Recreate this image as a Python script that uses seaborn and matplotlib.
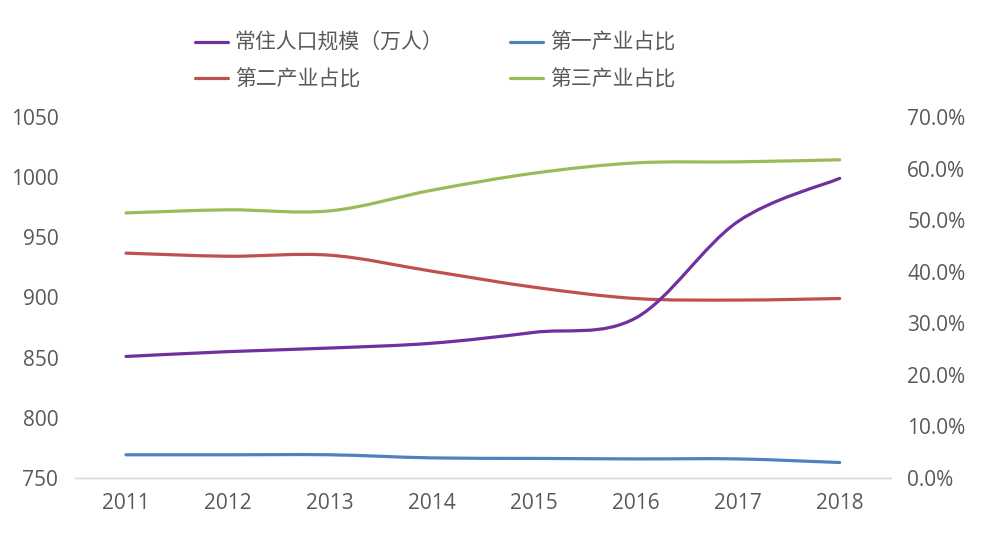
import numpy as np
import matplotlib
matplotlib.use("Agg")
import matplotlib.pyplot as plt
from matplotlib.path import Path
from matplotlib.patches import PathPatch
from matplotlib.lines import Line2D
from matplotlib.ticker import FuncFormatter
import seaborn as sns

# --- 數據 ---
years = ["2011", "2012", "2013", "2014", "2015", "2016", "2017", "2018"]
population = [851, 855, 858, 862, 871, 883, 963, 999]          # 常住人口规模（万人）
primary = [4.5, 4.5, 4.5, 3.9, 3.8, 3.7, 3.7, 3.0]              # 第一产业占比 %
secondary = [43.6, 43.0, 43.2, 40.1, 37.0, 34.8, 34.5, 34.8]    # 第二产业占比 %
tertiary = [51.4, 52.0, 51.8, 55.8, 59.1, 61.1, 61.3, 61.7]     # 第三产业占比 %

labels = ["常住人口规模（万人）", "第一产业占比", "第二产业占比", "第三产业占比"]
colors = ["#7030A0", "#4F81BD", "#C0504D", "#9BBB59"]

sns.set_theme(style="white")
plt.rcParams["font.family"] = ["Noto Sans CJK SC", "DejaVu Sans"]
TEXT = "#595959"
LW = 2.3


def smooth_path(xs, ys):
    # Excel 風格的平滑曲線 (Catmull-Rom -> Bezier)
    pts = np.column_stack([xs, ys]).astype(float)
    n = len(pts)
    verts = [pts[0]]
    codes = [Path.MOVETO]
    for i in range(n - 1):
        p0 = pts[i - 1] if i > 0 else pts[i]
        p1 = pts[i]
        p2 = pts[i + 1]
        p3 = pts[i + 2] if i + 2 < n else pts[i + 1]
        c1 = p1 + (p2 - p0) / 6.0
        c2 = p2 - (p3 - p1) / 6.0
        verts += [c1, c2, p2]
        codes += [Path.CURVE4] * 3
    return Path(verts, codes)


fig = plt.figure(figsize=(9.82, 5.33), dpi=100)
ax = fig.add_axes([0.0764, 0.1032, 0.8306, 0.6773])
ax2 = ax.twinx()

x = np.arange(len(years))
ax.add_patch(PathPatch(smooth_path(x, population), facecolor="none",
                       edgecolor=colors[0], lw=LW, capstyle="round", zorder=5))
for vals, c in zip([primary, secondary, tertiary], colors[1:]):
    ax2.add_patch(PathPatch(smooth_path(x, vals), facecolor="none",
                            edgecolor=c, lw=LW, capstyle="round", zorder=3))

ax.set_xlim(-0.5, len(years) - 0.5)
ax.set_ylim(750, 1050)
ax.set_yticks(np.arange(750, 1051, 50))
ax2.set_ylim(0, 70)
ax2.set_yticks(np.arange(0, 71, 10))
ax2.yaxis.set_major_formatter(FuncFormatter(lambda v, p: f"{v:.1f}%"))
ax.set_xticks(x)
ax.set_xticklabels(years)

ax.set_zorder(ax2.get_zorder() + 1)
ax.patch.set_visible(False)

for a in (ax, ax2):
    for s in ["top", "left", "right"]:
        a.spines[s].set_visible(False)
    a.spines["bottom"].set_color("#d9d9d9")
    a.spines["bottom"].set_linewidth(1.0)
    a.tick_params(axis="both", length=0, labelsize=15, labelcolor=TEXT)
    a.grid(False)
    for t in a.get_xticklabels() + a.get_yticklabels():
        t.set_family(["Open Sans", "DejaVu Sans"])
ax.tick_params(axis="y", pad=12)
ax.tick_params(axis="x", pad=11)
ax2.tick_params(axis="y", pad=12)

# 圖例：兩行兩列
handles = [Line2D([0], [0], color=c, lw=LW) for c in colors]
order = [0, 2, 1, 3]
fig.legend([handles[i] for i in order], [labels[i] for i in order],
           loc="upper center", bbox_to_anchor=(0.443, 0.975), ncol=2,
           frameon=False, fontsize=15, labelcolor=TEXT,
           handlelength=1.6, handletextpad=0.3, columnspacing=3.2,
           labelspacing=0.7)

fig.savefig("out.png", dpi=100)
